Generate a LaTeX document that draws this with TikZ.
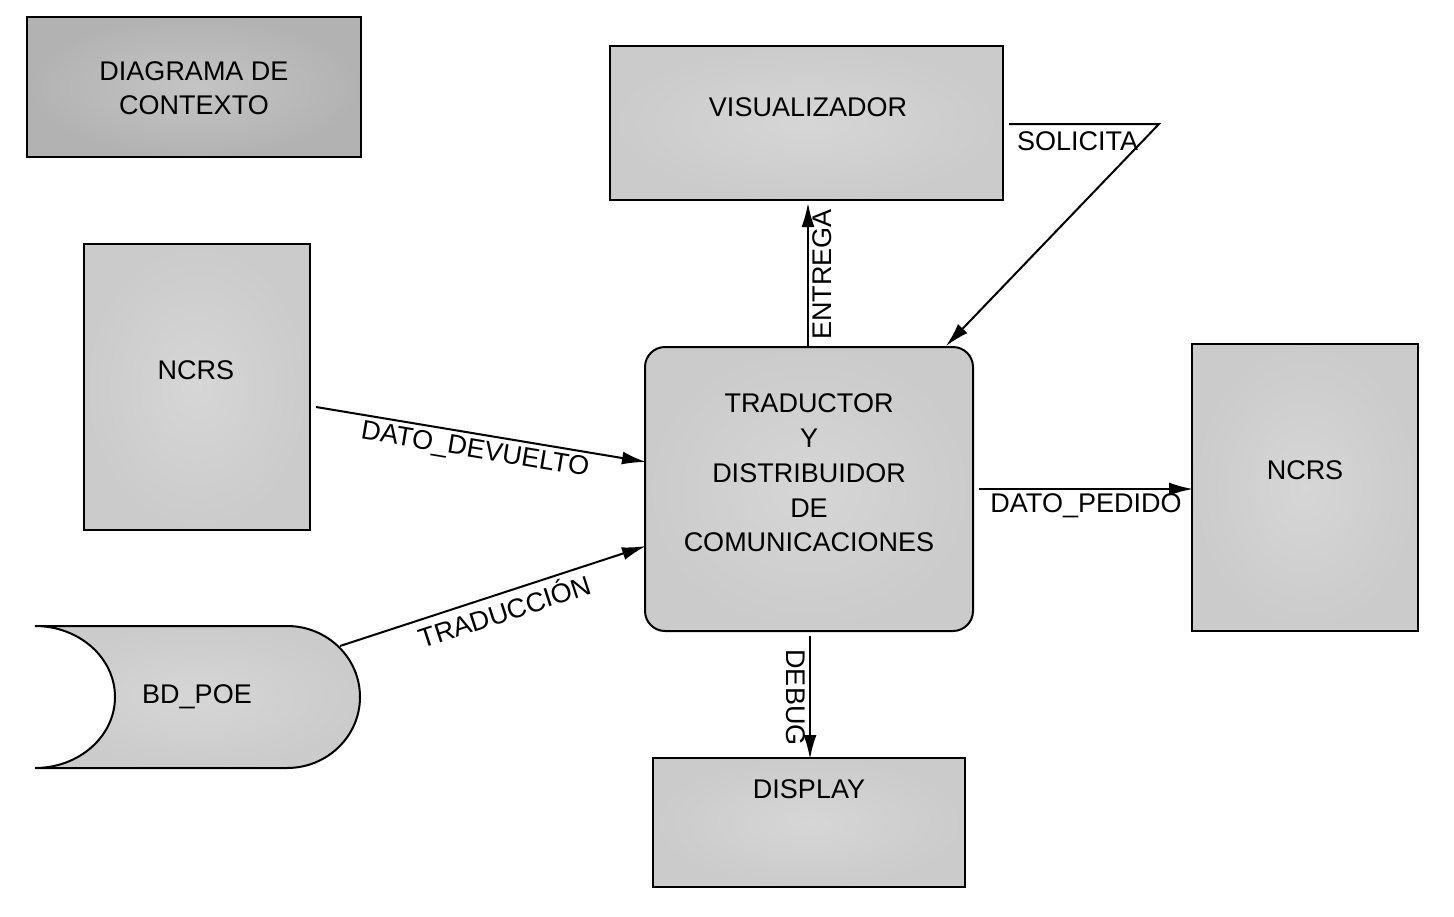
\documentclass[tikz,border=0pt]{standalone}
\usepackage{fontspec}
\setmainfont{Liberation Sans}
\usetikzlibrary{arrows.meta,calc}
\definecolor{boxin}{HTML}{D6D6D6}
\definecolor{boxout}{HTML}{CBCBCB}
\definecolor{darkin}{HTML}{C4C4C4}
\definecolor{darkout}{HTML}{B2B2B2}
\begin{document}
\begin{tikzpicture}[x=1pt,y=-1pt,
  every node/.style={font=\fontsize{27}{34}\selectfont},
  box/.style={draw=black,line width=2pt,inner color=boxin,outer color=boxout,inner sep=0pt},
  darkbox/.style={draw=black,line width=2pt,inner color=darkin,outer color=darkout,inner sep=0pt},
  txt/.style={align=center,inner sep=0pt},
  flow/.style={draw=black,line width=2pt,-{Latex[length=24pt,width=13pt]}},
  lbl/.style={inner sep=4pt}]
\useasboundingbox (0,0) rectangle (1454,916);
% boxes
\node[darkbox,minimum width=334pt,minimum height=140pt] (title) at (194,87) {};
\node[txt] (titletxt) at (194,88) {DIAGRAMA DE\\CONTEXTO};
\node[box,minimum width=393pt,minimum height=154pt] (vis) at (806.5,123) {};
\node[txt] (vistxt) at (808,107) {VISUALIZADOR};
\node[box,minimum width=226pt,minimum height=286pt] (ncrsL) at (197,387) {};
\node[txt] (ncrsLtxt) at (196,370) {NCRS};
\node[box,rounded corners=20pt,minimum width=328pt,minimum height=284pt] (trad) at (809,489) {};
\node[txt,font=\fontsize{27}{34.8}\selectfont] (tradtxt) at (809,473) {TRADUCTOR\\Y\\DISTRIBUIDOR\\DE\\COMUNICACIONES};
\node[box,minimum width=226pt,minimum height=287pt] (ncrsR) at (1305,487.5) {};
\node[txt] (ncrsRtxt) at (1305,470) {NCRS};
\node[box,minimum width=312pt,minimum height=129pt] (disp) at (809,822.5) {};
\node[txt] (disptxt) at (809,789) {DISPLAY};
% BD_POE store shape
\path[draw=black,line width=2pt,inner color=boxin,outer color=boxout]
  (35,626) -- (287,626)
  .. controls (327.3,626) and (360,657.8) .. (360,697)
  .. controls (360,736.2) and (327.3,768) .. (287,768)
  -- (35,768)
  .. controls (79.2,768) and (115,736.2) .. (115,697)
  .. controls (115,657.8) and (79.2,626) .. (35,626) -- cycle;
\node[txt] (poe) at (197,697) {BD\_POE};
\coordinate (poeR) at (340,646);
% connectors
\draw[flow] ($(ncrsL.north east)+(5,164)$) -- node[lbl,sloped,below,pos=0.49] {DATO\_DEVUELTO} ($(trad.west)+(2,-27)$);
\draw[flow] (poeR) -- node[lbl,sloped,below,pos=0.52] {TRADUCCIÓN} ($(trad.west)+(2,57)$);
\draw[flow] ($(trad.north)+(-1,0)$) -- node[midway,anchor=north,rotate=90,inner sep=4pt] {ENTREGA} ($(vis.south)+(1.5,2)$);
\draw[flow] ($(trad.south)+(1,4)$) -- node[midway,anchor=north,rotate=-90,inner sep=4pt] {DEBUG} ($(disp.north)+(1,2)$);
\draw[flow] ($(trad.east)+(5,0)$) -- node[midway,below,inner sep=4pt] {DATO\_PEDIDO} ($(ncrsR.west)+(2,1.5)$);
\draw[flow] ($(vis.east)+(5,1)$) -- ++(150,0) coordinate (solc) -- ($(trad.north east)+(-28,0)$);
\node[anchor=north west,inner sep=0pt] (soltxt) at (1017,131) {SOLICITA};
\end{tikzpicture}
\end{document}
